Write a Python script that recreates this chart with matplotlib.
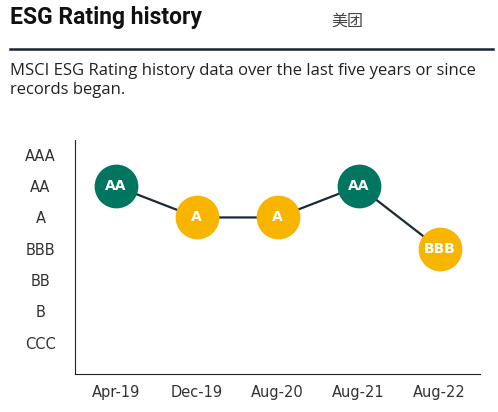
import matplotlib
matplotlib.use("Agg")
import matplotlib.pyplot as plt

dates = ["Apr-19", "Dec-19", "Aug-20", "Aug-21", "Aug-22"]
ratings = ["AA", "A", "A", "AA", "BBB"]
scale = ["CCC", "B", "BB", "BBB", "A", "AA", "AAA"]
colors = {"AA": "#00755f", "A": "#f7b500", "BBB": "#f7b500"}

vals = [scale.index(r) + 1 for r in ratings]
xs = list(range(len(dates)))

fig = plt.figure(figsize=(4.98, 4.12), dpi=100)
fig.text(0.02, 0.957, "ESG Rating history", fontsize=16.5, fontweight="bold",
         family=["Roboto", "DejaVu Sans"], color="#111111", va="center")
fig.text(0.665, 0.948, "美团", fontsize=11.5, family=["Noto Sans CJK SC"], color="#444444", va="center")
fig.add_artist(plt.Line2D([0.02, 0.99], [0.882, 0.882], color="#1a2233", lw=1.8))
fig.text(0.02, 0.805, "MSCI ESG Rating history data over the last five years or since\nrecords began.",
         fontsize=12, family=["Open Sans", "DejaVu Sans"], color="#222222", va="center", linespacing=1.3)

ax = fig.add_axes([0.151, 0.092, 0.813, 0.568])
ax.plot(xs, vals, color="#1a2a3a", lw=1.6, zorder=1)
for x, v, r in zip(xs, vals, ratings):
    ax.plot(x, v, "o", ms=31.5, color=colors[r], mec="none", zorder=2)
    ax.text(x, v, r, ha="center", va="center", color="white", fontsize=10,
            fontweight="bold", zorder=3)
ax.set_xlim(-0.5, 4.5)
ax.set_ylim(0, 7.47)
ax.set_yticks(range(1, 8))
ax.set_yticklabels(scale, ha="center")
ax.set_xticks(xs)
ax.set_xticklabels(dates)
for s in ["top", "right"]:
    ax.spines[s].set_visible(False)
for s in ["left", "bottom"]:
    ax.spines[s].set_color("#222222")
ax.tick_params(length=0, labelsize=10.5, colors="#333333", pad=8)
ax.tick_params(axis="y", pad=25)
fig.savefig("out.png", dpi=100)
